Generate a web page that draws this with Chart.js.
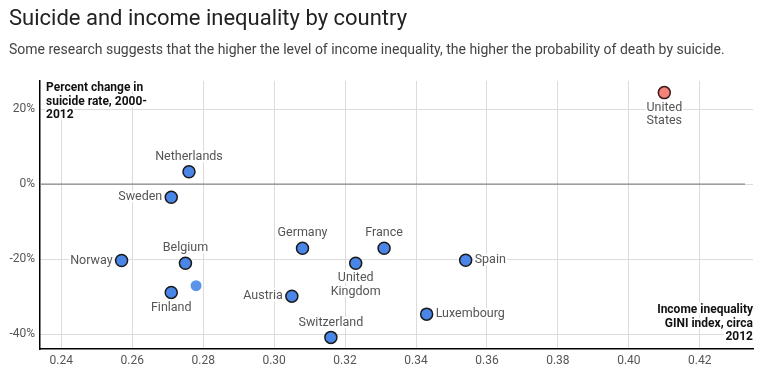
<!DOCTYPE html>
<html>
<head>
<meta charset="utf-8">
<script src="https://cdn.jsdelivr.net/npm/chart.js@4.4.0/dist/chart.umd.min.js"></script>
<style>
  html, body { margin: 0; padding: 0; background: #fff; }
  #wrap { position: relative; width: 768px; height: 373px; font-family: Roboto, sans-serif; }
  #title { position: absolute; left: 9px; top: 5px; font-size: 22px; color: #222; white-space: nowrap; }
  #subtitle { position: absolute; left: 9px; top: 41px; font-size: 14px; color: #444; white-space: nowrap; }
  #chart { position: absolute; left: 0; top: 0; }
</style>
</head>
<body>
<div id="wrap">
  <canvas id="chart" width="768" height="373"></canvas>
  <div id="title">Suicide and income inequality by country</div>
  <div id="subtitle">Some research suggests that the higher the level of income inequality, the higher the probability of death by suicide.</div>
</div>
<script>
var countries = ["Netherlands", "Sweden", "Norway", "Belgium", "Finland", "Germany", "France",
                 "United Kingdom", "Austria", "Switzerland", "Spain", "Luxembourg"];
var gini = [0.276, 0.271, 0.257, 0.275, 0.271, 0.308, 0.331, 0.323, 0.305, 0.316, 0.354, 0.343];
var suicideChange = [3.3, -3.5, -20.4, -21.1, -28.9, -17.1, -17.1, -21.1, -29.9, -40.9, -20.3, -34.7];

var usName = "United States";
var usGini = [0.410];
var usChange = [24.4];

var extraGini = [0.278];
var extraChange = [-27.1];

var xTicks = [0.24, 0.26, 0.28, 0.30, 0.32, 0.34, 0.36, 0.38, 0.40, 0.42];
var yTicks = [-40, -20, 0, 20];

function makePoints(xs, ys) {
    var pts = [];
    for (var i = 0; i < xs.length; i++) {
        pts.push({x: xs[i], y: ys[i]});
    }
    return pts;
}

// where each label goes relative to its dot
var labelSide = {
    "Netherlands": "top", "Sweden": "left", "Norway": "left", "Belgium": "top",
    "Finland": "bottom", "Germany": "top", "France": "top", "United Kingdom": "bottom",
    "Austria": "left", "Switzerland": "top", "Spain": "right", "Luxembourg": "right",
    "United States": "bottom"
};

function splitName(name) {
    if (name == "United Kingdom") return ["United", "Kingdom"];
    if (name == "United States") return ["United", "States"];
    return [name];
}

var labelPlugin = {
    id: "pointLabels",
    afterDatasetsDraw: function (chart) {
        var ctx = chart.ctx;
        ctx.save();
        ctx.font = "12.5px Roboto";
        ctx.textBaseline = "middle";
        ctx.lineJoin = "round";
        ctx.lineWidth = 4;
        ctx.strokeStyle = "#fff";
        ctx.fillStyle = "#555";
        var sets = [[0, countries], [1, [usName]]];
        for (var s = 0; s < sets.length; s++) {
            var meta = chart.getDatasetMeta(sets[s][0]);
            var names = sets[s][1];
            for (var i = 0; i < names.length; i++) {
                var p = meta.data[i];
                var lines = splitName(names[i]);
                var side = labelSide[names[i]];
                for (var l = 0; l < lines.length; l++) {
                    var tx = p.x, ty = p.y;
                    if (side == "top") { ctx.textAlign = "center"; ty = p.y - 15; }
                    if (side == "bottom") { ctx.textAlign = "center"; ty = p.y + 15 + l * 13.5; }
                    if (side == "left") { ctx.textAlign = "right"; tx = p.x - 9; ty = p.y; }
                    if (side == "right") { ctx.textAlign = "left"; tx = p.x + 9; ty = p.y; }
                    ctx.strokeText(lines[l], tx, ty);
                    ctx.fillText(lines[l], tx, ty);
                }
            }
        }
        ctx.restore();
    }
};

var axisTitlePlugin = {
    id: "axisTitles",
    beforeDatasetsDraw: function (chart) {
        var ctx = chart.ctx;
        var area = chart.chartArea;
        ctx.save();
        ctx.font = "bold 12px Roboto";
        ctx.fillStyle = "#111";
        ctx.textBaseline = "middle";
        ctx.lineWidth = 4;
        ctx.strokeStyle = "#fff";
        ctx.lineJoin = "round";
        var yLines = ["Percent change in", "suicide rate, 2000-", "2012"];
        ctx.textAlign = "left";
        for (var i = 0; i < yLines.length; i++) {
            ctx.strokeText(yLines[i], area.left + 6, area.top + 7 + i * 13.7);
            ctx.fillText(yLines[i], area.left + 6, area.top + 7 + i * 13.7);
        }
        var xLines = ["Income inequality", "GINI index, circa", "2012"];
        ctx.textAlign = "right";
        for (var j = 0; j < xLines.length; j++) {
            ctx.strokeText(xLines[j], area.right, area.bottom - 39 + j * 13.7);
            ctx.fillText(xLines[j], area.right, area.bottom - 39 + j * 13.7);
        }
        ctx.restore();
    }
};

var zeroLinePlugin = {
    id: "zeroLine",
    beforeDatasetsDraw: function (chart) {
        var ctx = chart.ctx;
        var y = chart.scales.y.getPixelForValue(0);
        ctx.save();
        ctx.strokeStyle = "#888";
        ctx.lineWidth = 1.3;
        ctx.beginPath();
        ctx.moveTo(chart.chartArea.left, y);
        ctx.lineTo(chart.chartArea.right - 8, y);
        ctx.stroke();
        ctx.restore();
    }
};

function makeChart() {
    var el = document.getElementById("chart");
    new Chart(el, {
        type: "scatter",
        data: {
            datasets: [
                {
                    label: "Countries",
                    data: makePoints(gini, suicideChange),
                    backgroundColor: "#4a86e8",
                    borderColor: "#1a1a1a",
                    borderWidth: 1.5,
                    pointRadius: 6,
                    pointHoverRadius: 6
                },
                {
                    label: usName,
                    data: makePoints(usGini, usChange),
                    backgroundColor: "#f4817a",
                    borderColor: "#3a1a1a",
                    borderWidth: 1.5,
                    pointRadius: 6,
                    pointHoverRadius: 6
                },
                {
                    label: "Other",
                    data: makePoints(extraGini, extraChange),
                    backgroundColor: "#5a94e6",
                    borderWidth: 0,
                    pointRadius: 5.5,
                    pointHoverRadius: 5.5
                }
            ]
        },
        options: {
            responsive: false,
            animation: false,
            layout: { padding: { top: 81, right: 15, left: 0, bottom: 0 } },
            plugins: {
                legend: { display: false },
                tooltip: { enabled: false }
            },
            scales: {
                x: {
                    type: "linear",
                    min: 0.234,
                    max: 0.435,
                    afterBuildTicks: function (scale) {
                        scale.ticks = xTicks.map(function (v) { return {value: v}; });
                    },
                    afterFit: function (scale) { scale.height = 24; },
                    ticks: {
                        color: "#555",
                        font: { family: "Roboto", size: 12 },
                        padding: 5,
                        callback: function (v) { return Number(v).toFixed(2); }
                    },
                    grid: { color: "#dcdcdc", drawTicks: false },
                    border: { color: "#000", width: 1.5 }
                },
                y: {
                    min: -44,
                    max: 27.5,
                    afterBuildTicks: function (scale) {
                        scale.ticks = yTicks.map(function (v) { return {value: v}; });
                    },
                    afterFit: function (scale) { scale.width = 40; },
                    ticks: {
                        color: "#555",
                        font: { family: "Roboto", size: 12 },
                        padding: 5,
                        callback: function (v) { return v + "%"; }
                    },
                    grid: { color: "#dcdcdc", drawTicks: false },
                    border: { color: "#000", width: 1.5 }
                }
            }
        },
        plugins: [zeroLinePlugin, axisTitlePlugin, labelPlugin]
    });
}

document.addEventListener("DOMContentLoaded", makeChart);
</script>
</body>
</html>
